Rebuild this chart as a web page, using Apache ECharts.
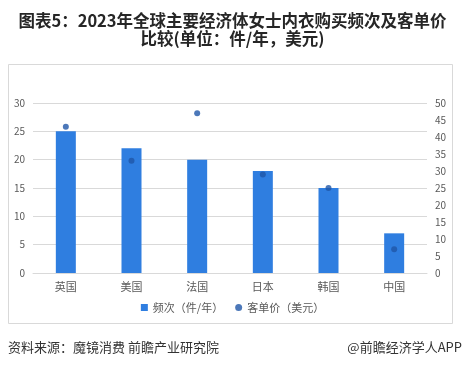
<!DOCTYPE html>
<html><head><meta charset="utf-8">
<script src="https://cdn.jsdelivr.net/npm/echarts@6/dist/echarts.min.js"></script>
<style>html,body{margin:0;padding:0;background:#fff}#c{width:465px;height:370px}</style>
</head><body><div id="c"></div>
<script>
var categories = ['英国','美国','法国','日本','韩国','中国'];
var frequency = [25, 22, 20, 18, 15, 7];
var unitPrice = [43, 33, 47, 29, 25, 7];
var leftTicks = {min:0, max:30, interval:5};
var rightTicks = {min:0, max:50, interval:5};
var titleText = '图表5：2023年全球主要经济体女士内衣购买频次及客单价\n比较(单位：件/年，美元)';
var sourceText = '资料来源：魔镜消费 前瞻产业研究院';
var brandText = '@前瞻经济学人APP';

var chart = echarts.init(document.getElementById('c'));
var font = '"Microsoft YaHei","Noto Sans CJK SC",sans-serif';
chart.setOption({
  backgroundColor:'#fff',
  animation:false,
  title:{text:titleText,left:'center',top:7,textStyle:{fontFamily:font,fontSize:16.5,fontWeight:'bold',color:'#262626',lineHeight:18}},
  graphic:[
    {type:'rect',shape:{x:8.5,y:64.5,width:444,height:259},style:{fill:'none',stroke:'#d9d9d9',lineWidth:1},silent:true},
    {type:'text',left:8,top:341,style:{text:sourceText,font:'13px '+font,fill:'#333'}},
    {type:'text',right:3,top:341,style:{text:brandText,font:'13px '+font,fill:'#333'}}
  ],
  legend:{bottom:52,left:'center',itemGap:12,textStyle:{fontFamily:font,fontSize:11,color:'#595959'},itemWidth:7,itemHeight:7,
    data:[{name:'频次（件/年）',icon:'rect'},{name:'客单价（美元）',icon:'circle'}]},
  grid:{left:33,right:38,top:103,bottom:97},
  xAxis:{type:'category',data:categories,axisTick:{show:false},axisLine:{lineStyle:{color:'#d9d9d9'}},
    axisLabel:{fontFamily:font,fontSize:11,color:'#595959',margin:8}},
  yAxis:[
    {type:'value',min:leftTicks.min,max:leftTicks.max,interval:leftTicks.interval,axisLine:{show:false},axisTick:{show:false},
     axisLabel:{fontFamily:font,fontSize:10,color:'#595959',margin:8},splitLine:{lineStyle:{color:'#d9d9d9'}}},
    {type:'value',min:rightTicks.min,max:rightTicks.max,interval:rightTicks.interval,axisLine:{show:false},axisTick:{show:false},
     axisLabel:{fontFamily:font,fontSize:10,color:'#595959',margin:8},splitLine:{show:false}}
  ],
  series:[
    {name:'频次（件/年）',type:'bar',data:frequency,barWidth:20,itemStyle:{color:'#2f7ee0'}},
    {name:'客单价（美元）',type:'scatter',yAxisIndex:1,data:unitPrice,symbolSize:6,itemStyle:{color:'#1f56a8'}}
  ]
});
</script></body></html>
